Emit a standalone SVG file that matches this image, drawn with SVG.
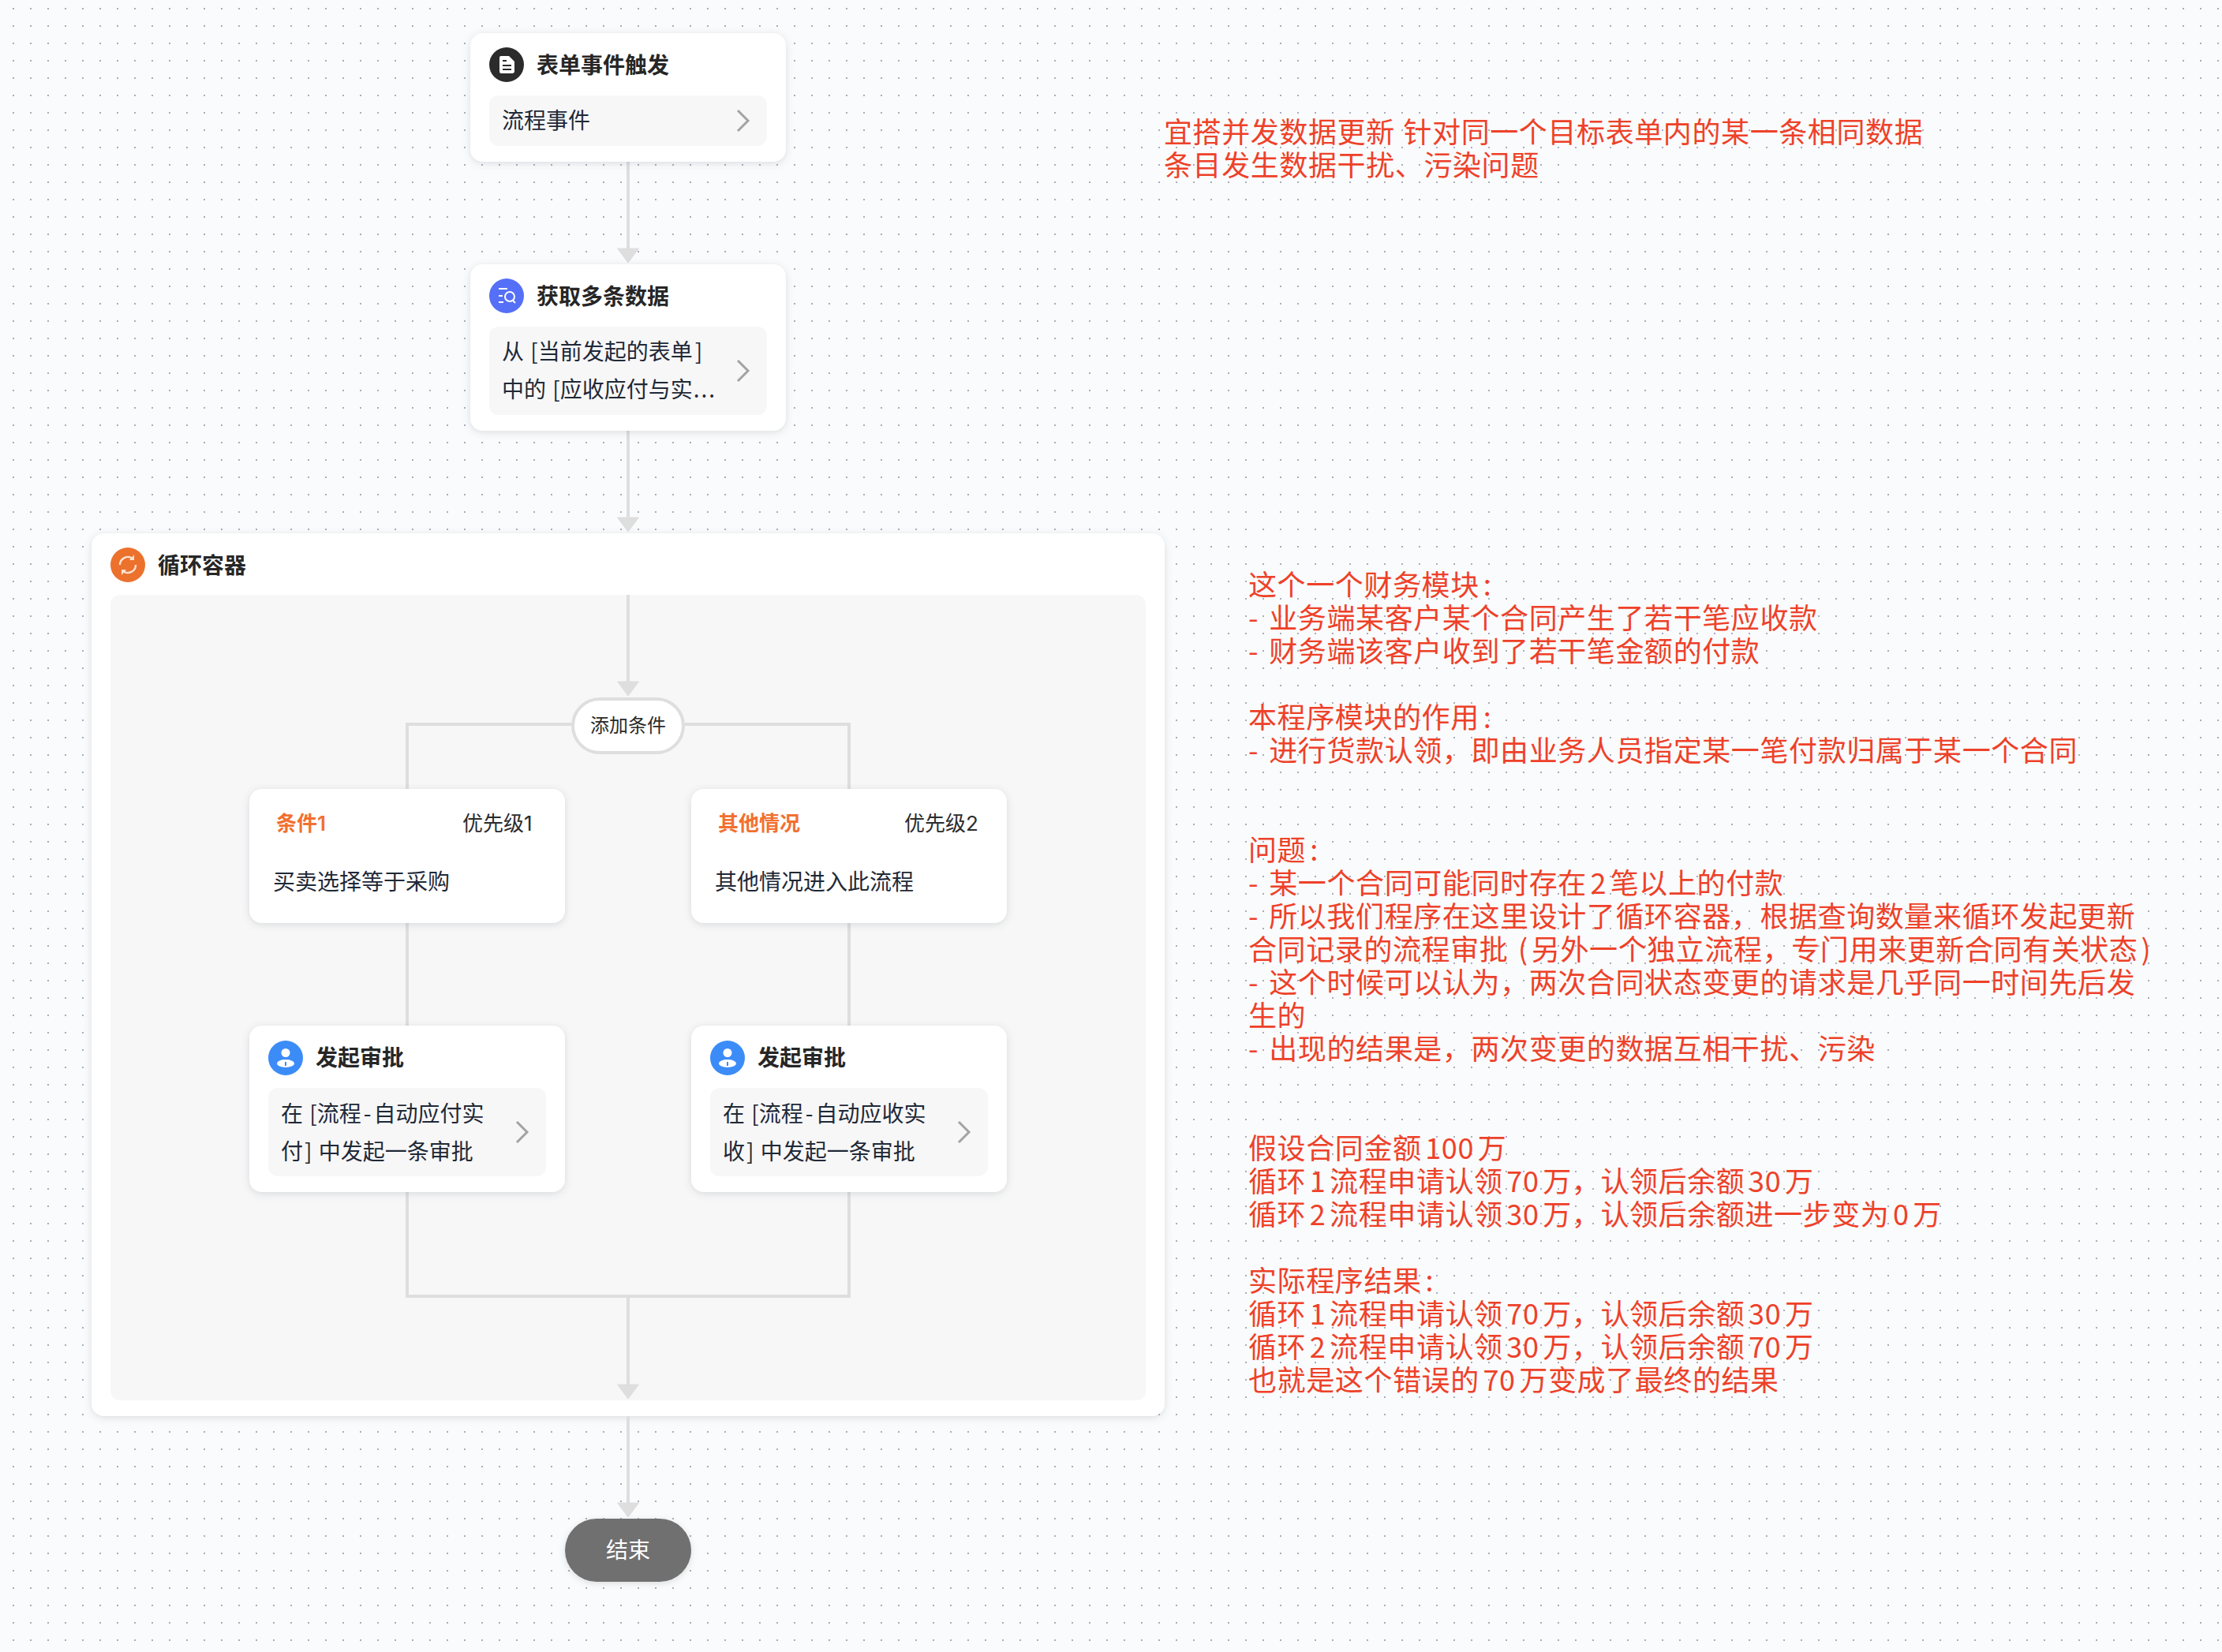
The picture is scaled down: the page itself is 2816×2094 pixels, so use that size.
<svg xmlns="http://www.w3.org/2000/svg" width="2816" height="2094" viewBox="0 0 2816 2094">
  <style>
    text { font-family: "Noto Sans CJK SC", "Noto Sans", sans-serif; }
    .card { fill: #fff; filter: url(#cardShadow); }
    .well { fill: #f7f7f7; }
    .title { font-size: 28px; font-weight: 600; fill: #262626; }
    .body { font-size: 28px; fill: #1f2937; }
    .cond { font-size: 26px; font-weight: 600; fill: #f2702f; font-family: Inter, "Noto Sans CJK SC", sans-serif; }
    .prio { font-size: 26px; fill: #2b2b2b; font-family: Inter, "Noto Sans CJK SC", sans-serif; }
    .chev { fill: none; stroke: #a3a3a3; stroke-width: 3; }
    .wire { fill: none; stroke: #dedede; stroke-width: 4; }
    .head { fill: #dedede; stroke: #dedede; stroke-width: 1; stroke-linejoin: round; }
    .note { font-size: 36px; fill: #ee4129; letter-spacing: 0.6px; word-spacing: -4px; }
    .glyph { fill: #fff; }
  </style>
  <defs>
    <pattern id="dotGrid" x="0" y="0" width="22" height="22" patternUnits="userSpaceOnUse">
      <rect x="16" y="10" width="2" height="2" fill="#a9acbc"/>
    </pattern>
    <filter id="cardShadow" x="-10%" y="-10%" width="120%" height="125%">
      <feDropShadow dx="0" dy="2" stdDeviation="5" flood-color="#5b6270" flood-opacity="0.2"/>
    </filter>
    <filter id="pillShadow" x="-10%" y="-10%" width="120%" height="130%">
      <feDropShadow dx="0" dy="2" stdDeviation="4" flood-color="#000" flood-opacity="0.12"/>
    </filter>
    <path id="arrowHead" class="head" d="M-13.5 0H13.5L0 18Z"/>
    <path id="chevron" class="chev" d="M0 0L13 13L0 26"/>
    <g id="userIcon">
      <circle cx="0" cy="-6.5" r="5.5" class="glyph"/>
      <ellipse cx="0" cy="7" rx="11" ry="5" class="glyph"/>
      <rect x="-1" y="5" width="2" height="5" fill="#3c8cf8"/>
    </g>
  </defs>

  <rect width="2816" height="2094" fill="#fafbfc"/>
  <rect width="2816" height="2094" fill="url(#dotGrid)"/>

  <g id="loop-container">
    <rect class="card" x="116" y="676" width="1360" height="1119" rx="16"/>
    <rect class="well" x="140" y="754" width="1312" height="1021" rx="12"/>
    <circle cx="162" cy="716" r="22" fill="#ec712d"/>
    <path d="M152 716A10 10 0 0 1 168 708M172 716A10 10 0 0 1 156 724" fill="none" stroke="#fbe3d2" stroke-width="2.4"/>
    <path d="M170 703V710H164ZM154 729V722H160Z" fill="#fbe3d2"/>
    <text class="title" x="200" y="727">循环容器</text>
  </g>

  <g id="connectors">
    <path class="wire" d="M796 205V316"/>
    <use href="#arrowHead" x="796" y="315"/>
    <path class="wire" d="M796 546V657"/>
    <use href="#arrowHead" x="796" y="656"/>
    <path class="wire" d="M796 754V865"/>
    <use href="#arrowHead" x="796" y="864"/>
    <path class="wire" d="M724 918H516V1000"/>
    <path class="wire" d="M868 918H1076V1000"/>
    <path class="wire" d="M516 1170V1300"/>
    <path class="wire" d="M1076 1170V1300"/>
    <path class="wire" d="M516 1511V1643H1076V1511"/>
    <path class="wire" d="M796 1643V1756"/>
    <use href="#arrowHead" x="796" y="1755"/>
    <path class="wire" d="M796 1795V1906"/>
    <use href="#arrowHead" x="796" y="1905"/>
  </g>

  <g id="form-trigger">
    <rect class="card" x="596" y="42" width="400" height="163" rx="16"/>
    <circle cx="642" cy="82" r="22" fill="#2b2b2b"/>
    <path class="glyph" d="M635 71H645L652 78V90Q652 93 649 93H635Q633 93 633 90V73Q633 71 635 71Z"/>
    <path d="M637 77H642M637 83H648M637 88H648" stroke="#2b2b2b" stroke-width="2"/>
    <text class="title" x="680" y="93">表单事件触发</text>
    <rect class="well" x="620" y="121" width="352" height="64" rx="12"/>
    <text class="body" x="636" y="163">流程事件</text>
    <use href="#chevron" x="935" y="140"/>
  </g>

  <g id="fetch-records">
    <rect class="card" x="596" y="335" width="400" height="211" rx="16"/>
    <circle cx="642" cy="375" r="22" fill="#5570f6"/>
    <path d="M632 366H643M632 375H637M632 383H638" stroke="#fff" stroke-width="2"/>
    <circle cx="646" cy="376" r="6" fill="none" stroke="#fff" stroke-width="2"/>
    <path d="M650 381L653 384" stroke="#fff" stroke-width="2"/>
    <text class="title" x="680" y="386">获取多条数据</text>
    <rect class="well" x="620" y="414" width="352" height="112" rx="12"/>
    <text class="body" x="636" y="456">从 <tspan dx="2">[当前发起的表单</tspan><tspan dx="3">]</tspan></text>
    <text class="body" x="636" y="504">中的 <tspan dx="2">[应收应付与实</tspan><tspan dx="1" letter-spacing="2">...</tspan></text>
    <use href="#chevron" x="935" y="457"/>
  </g>

  <g id="add-condition">
    <rect x="726" y="886" width="140" height="68" rx="34" fill="#fff" stroke="#dedede" stroke-width="4"/>
    <text x="796" y="928" text-anchor="middle" font-size="24" fill="#2b2b2b">添加条件</text>
  </g>

  <g id="condition-1">
    <rect class="card" x="316" y="1000" width="400" height="170" rx="16"/>
    <text class="cond" x="350" y="1053">条件1</text>
    <text class="prio" x="586" y="1053">优先级1</text>
    <text class="body" x="346" y="1128">买卖选择等于采购</text>
  </g>

  <g id="condition-2">
    <rect class="card" x="876" y="1000" width="400" height="170" rx="16"/>
    <text class="cond" x="910" y="1053">其他情况</text>
    <text class="prio" x="1146" y="1053">优先级2</text>
    <text class="body" x="906" y="1128">其他情况进入此流程</text>
  </g>

  <g id="approval-1">
    <rect class="card" x="316" y="1300" width="400" height="211" rx="16"/>
    <circle cx="362" cy="1341" r="22" fill="#3c8cf8"/>
    <use href="#userIcon" x="362" y="1341"/>
    <text class="title" x="400" y="1351">发起审批</text>
    <rect class="well" x="340" y="1379" width="352" height="112" rx="12"/>
    <text class="body" x="356" y="1422">在 <tspan dx="2">[流程</tspan><tspan dx="3">-</tspan><tspan dx="3">自动应付实</tspan></text>
    <text class="body" x="356" y="1470">付<tspan dx="2">]</tspan> <tspan dx="2">中发起一条审批</tspan></text>
    <use href="#chevron" x="655" y="1422"/>
  </g>

  <g id="approval-2">
    <rect class="card" x="876" y="1300" width="400" height="211" rx="16"/>
    <circle cx="922" cy="1341" r="22" fill="#3c8cf8"/>
    <use href="#userIcon" x="922" y="1341"/>
    <text class="title" x="960" y="1351">发起审批</text>
    <rect class="well" x="900" y="1379" width="352" height="112" rx="12"/>
    <text class="body" x="916" y="1422">在 <tspan dx="2">[流程</tspan><tspan dx="3">-</tspan><tspan dx="3">自动应收实</tspan></text>
    <text class="body" x="916" y="1470">收<tspan dx="2">]</tspan> <tspan dx="2">中发起一条审批</tspan></text>
    <use href="#chevron" x="1215" y="1422"/>
  </g>

  <g id="end">
    <rect x="716" y="1925" width="160" height="80" rx="40" fill="#6f6f6f" filter="url(#pillShadow)"/>
    <text x="796" y="1975" text-anchor="middle" font-size="28" fill="#fff">结束</text>
  </g>

  <g id="notes">
    <text class="note" x="1475" y="181">宜搭并发数据更新 <tspan dx="6">针对同一个目标表单内的某一条相同数据</tspan></text>
    <text class="note" x="1475" y="223">条目发生数据干扰、污染问题</text>

    <text class="note" x="1582" y="755">这个一个财务模块<tspan dx="5">:</tspan></text>
    <text class="note" x="1582" y="797">- <tspan dx="8.5">业务端某客户某个合同产生了若干笔应收款</tspan></text>
    <text class="note" x="1582" y="839">- <tspan dx="8.5">财务端该客户收到了若干笔金额的付款</tspan></text>
    <text class="note" x="1582" y="923">本程序模块的作用<tspan dx="5">:</tspan></text>
    <text class="note" x="1582" y="965">- <tspan dx="8.5">进行货款认领，即由业务人员指定某一笔付款归属于某一个合同</tspan></text>

    <text class="note" x="1582" y="1091">问题<tspan dx="5">:</tspan></text>
    <text class="note" x="1582" y="1133">- <tspan dx="8.5">某一个合同可能同时存在 2 笔以上的付款</tspan></text>
    <text class="note" x="1582" y="1175">- <tspan dx="8.5">所以我们程序在这里设计了循环容器，根据查询数量来循环发起更新</tspan></text>
    <text class="note" x="1582" y="1217">合同记录的流程审批 <tspan dx="8">(</tspan><tspan dx="4">另外一个独立流程，专门用来更新合同有关状态</tspan><tspan dx="4">)</tspan></text>
    <text class="note" x="1582" y="1259">- <tspan dx="8.5">这个时候可以认为，两次合同状态变更的请求是几乎同一时间先后发</tspan></text>
    <text class="note" x="1582" y="1301">生的</text>
    <text class="note" x="1582" y="1343">- <tspan dx="8.5">出现的结果是，两次变更的数据互相干扰、污染</tspan></text>

    <text class="note" x="1582" y="1469">假设合同金额 100 万</text>
    <text class="note" x="1582" y="1511">循环 1 流程申请认领 70 万，认领后余额 30 万</text>
    <text class="note" x="1582" y="1553">循环 2 流程申请认领 30 万，认领后余额进一步变为 0 万</text>
    <text class="note" x="1582" y="1637">实际程序结果<tspan dx="5">:</tspan></text>
    <text class="note" x="1582" y="1679">循环 1 流程申请认领 70 万，认领后余额 30 万</text>
    <text class="note" x="1582" y="1721">循环 2 流程申请认领 30 万，认领后余额 70 万</text>
    <text class="note" x="1582" y="1763">也就是这个错误的 70 万变成了最终的结果</text>
  </g>
</svg>
